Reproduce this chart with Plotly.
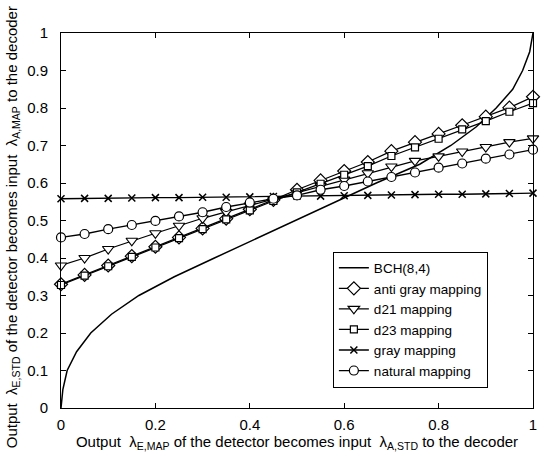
import plotly.graph_objects as go

# ---- data ----
x_vals = [0.00, 0.05, 0.10, 0.15, 0.20, 0.25, 0.30, 0.35, 0.40, 0.45, 0.50,
          0.55, 0.60, 0.65, 0.70, 0.75, 0.80, 0.85, 0.90, 0.95, 1.00]

anti_gray = [0.330, 0.355, 0.380, 0.405, 0.430, 0.455, 0.479, 0.505, 0.530, 0.555, 0.582,
             0.607, 0.632, 0.656, 0.685, 0.709, 0.731, 0.754, 0.777, 0.801, 0.830]
d21 = [0.380, 0.400, 0.424, 0.446, 0.466, 0.486, 0.506, 0.523, 0.540, 0.557, 0.574,
       0.592, 0.609, 0.626, 0.644, 0.659, 0.671, 0.684, 0.696, 0.709, 0.719]
d23 = [0.328, 0.353, 0.378, 0.403, 0.428, 0.453, 0.477, 0.503, 0.527, 0.552, 0.575,
       0.598, 0.622, 0.645, 0.672, 0.695, 0.718, 0.743, 0.765, 0.790, 0.813]
gray = [0.558, 0.559, 0.559, 0.560, 0.561, 0.561, 0.562, 0.562, 0.563, 0.564, 0.565,
        0.565, 0.566, 0.567, 0.568, 0.569, 0.570, 0.570, 0.571, 0.572, 0.573]
natural = [0.455, 0.464, 0.477, 0.488, 0.499, 0.511, 0.522, 0.536, 0.548, 0.558, 0.567,
           0.582, 0.592, 0.604, 0.616, 0.628, 0.641, 0.652, 0.665, 0.676, 0.689]

bch_x = [0.000, 0.004, 0.013, 0.033, 0.063, 0.107, 0.165, 0.240, 0.325, 0.410, 0.495,
         0.580, 0.668, 0.760, 0.826, 0.880, 0.922, 0.957, 0.978, 0.993, 1.000]
bch_y = [0.00, 0.05, 0.10, 0.15, 0.20, 0.25, 0.30, 0.35, 0.40, 0.45, 0.50,
         0.55, 0.60, 0.65, 0.70, 0.75, 0.80, 0.85, 0.90, 0.95, 1.00]

x_ticks = [0, 0.2, 0.4, 0.6, 0.8, 1]
y_ticks = [0, 0.1, 0.2, 0.3, 0.4, 0.5, 0.6, 0.7, 0.8, 0.9, 1]

x_title = "Output  λ<sub>E,MAP</sub> of the detector becomes input  λ<sub>A,STD</sub> to the decoder"
y_title = "Output  λ<sub>E,STD</sub> of the detector becomes input  λ<sub>A,MAP</sub> to the decoder"

FONT = "Liberation Sans, Arial, sans-serif"

fig = go.Figure()
fig.add_trace(go.Scatter(x=bch_x, y=bch_y, mode="lines", name="BCH(8,4)",
                         line=dict(color="black", width=1.5), cliponaxis=False))

def marked(y, name, symbol, size, lw=1.2):
    return go.Scatter(x=x_vals, y=y, mode="lines+markers", name=name,
                      line=dict(color="black", width=1.3), cliponaxis=False,
                      marker=dict(symbol=symbol, size=size, color="white",
                                  line=dict(color="black", width=lw)))

fig.add_trace(marked(anti_gray, "anti gray mapping", "diamond", 10))
fig.add_trace(marked(d21, "d21 mapping", "triangle-down", 10))
fig.add_trace(marked(d23, "d23 mapping", "square", 7))
fig.add_trace(go.Scatter(x=x_vals, y=gray, mode="lines+markers", name="gray mapping",
                         line=dict(color="black", width=1.3), cliponaxis=False,
                         marker=dict(symbol="x-thin", size=7,
                                     line=dict(color="black", width=1.5))))
fig.add_trace(marked(natural, "natural mapping", "circle", 9))

axis_common = dict(showline=True, linecolor="black", linewidth=1, mirror="ticks",
                   ticks="inside", ticklen=5, tickcolor="black", showgrid=False,
                   zeroline=False, ticklabeloverflow="allow",
                   tickfont=dict(family=FONT, size=15, color="black"))

fig.update_xaxes(range=[0, 1], tickvals=x_ticks, ticklabelstandoff=3,
                 title=dict(text=x_title,
                            font=dict(family=FONT, size=15, color="black"), standoff=0),
                 **axis_common)
fig.update_yaxes(range=[0, 1], tickvals=y_ticks, ticklabelstandoff=9,
                 **axis_common)

fig.add_annotation(text=y_title, textangle=-90, showarrow=False,
                   xref="paper", yref="paper", x=-0.103, y=0.483,
                   xanchor="center", yanchor="middle",
                   font=dict(family=FONT, size=15, color="black"))

fig.update_layout(
    width=545, height=456,
    margin=dict(l=61, r=8, t=33, b=48),
    paper_bgcolor="white", plot_bgcolor="white",
    font=dict(family=FONT, color="black"),
    legend=dict(x=0.576, y=0.236, xanchor="left", yanchor="middle",
                bgcolor="white", bordercolor="black", borderwidth=1,
                font=dict(family=FONT, size=13.5, color="black"),
                tracegroupgap=0, entrywidth=146),
    showlegend=True,
)

fig.write_html("out.html", config={"displayModeBar": False},
               post_script="document.body.style.margin='0';document.body.style.overflow='hidden';")
